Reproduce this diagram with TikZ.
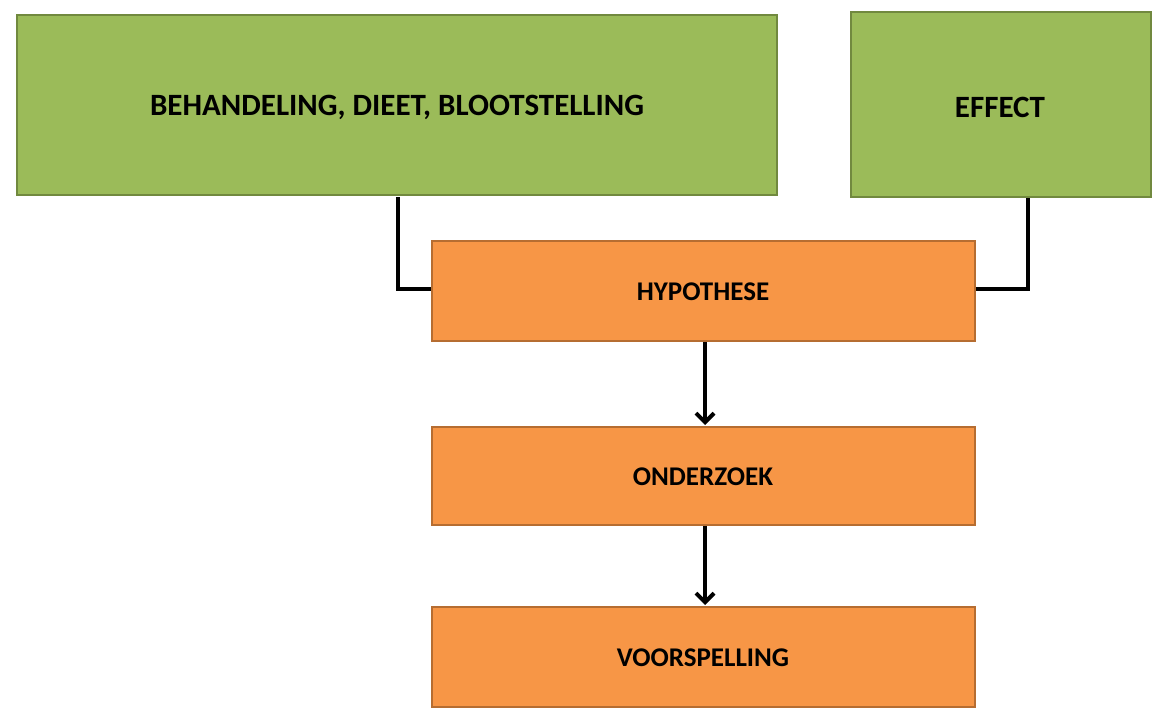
\documentclass[tikz,border=0pt]{standalone}
\usepackage{fontspec}
\setmainfont{Carlito}
\usetikzlibrary{arrows.meta}
\definecolor{gfill}{HTML}{9BBB59}
\definecolor{gline}{HTML}{71893F}
\definecolor{ofill}{HTML}{F79646}
\definecolor{oline}{HTML}{B66D31}
\begin{document}
\begin{tikzpicture}[x=1pt,y=-1pt,
  gbox/.style={draw=gline,fill=gfill,line width=2.5pt},
  obox/.style={draw=oline,fill=ofill,line width=2.5pt},
  conn/.style={line width=4.5pt,black},
  arr/.style={conn,-{Straight Barb[length=9pt,width=18pt,line width=4pt]}}]
\useasboundingbox[fill=white] (0,0) rectangle (1172,725);
\draw[gbox] (17,15) rectangle (777,195);
\node[font=\bfseries\fontsize{31}{36}\selectfont] (g1) at (397,107) {BEHANDELING, DIEET, BLOOTSTELLING};
\draw[gbox] (851,12) rectangle (1151,197);
\node[font=\bfseries\fontsize{31}{36}\selectfont] (g2) at (1000,107) {EFFECT};
\draw[obox] (432,241) rectangle (975,341);
\node[font=\bfseries\fontsize{27}{32}\selectfont] (h) at (703,292) {HYPOTHESE};
\draw[obox] (432,427) rectangle (975,525);
\node[font=\bfseries\fontsize{27}{32}\selectfont] (o) at (703,477) {ONDERZOEK};
\draw[obox] (432,607) rectangle (975,707);
\node[font=\bfseries\fontsize{27}{32}\selectfont] (v) at (703,658) {VOORSPELLING};
\coordinate (a1) at (398,197); \coordinate (a2) at (398,289); \coordinate (a3) at (431,289);
\coordinate (b1) at (1028,198); \coordinate (b2) at (1028,289); \coordinate (b3) at (976,289);
\draw[conn] (a1) -- (a2) -- (a3);
\draw[conn] (b1) -- (b2) -- (b3);
\coordinate (h1) at (705,342); \coordinate (o1) at (705,425);
\coordinate (o2) at (705,526); \coordinate (v1) at (705,605);
\draw[arr] (h1) -- (o1);
\draw[arr] (o2) -- (v1);
\end{tikzpicture}
\end{document}
